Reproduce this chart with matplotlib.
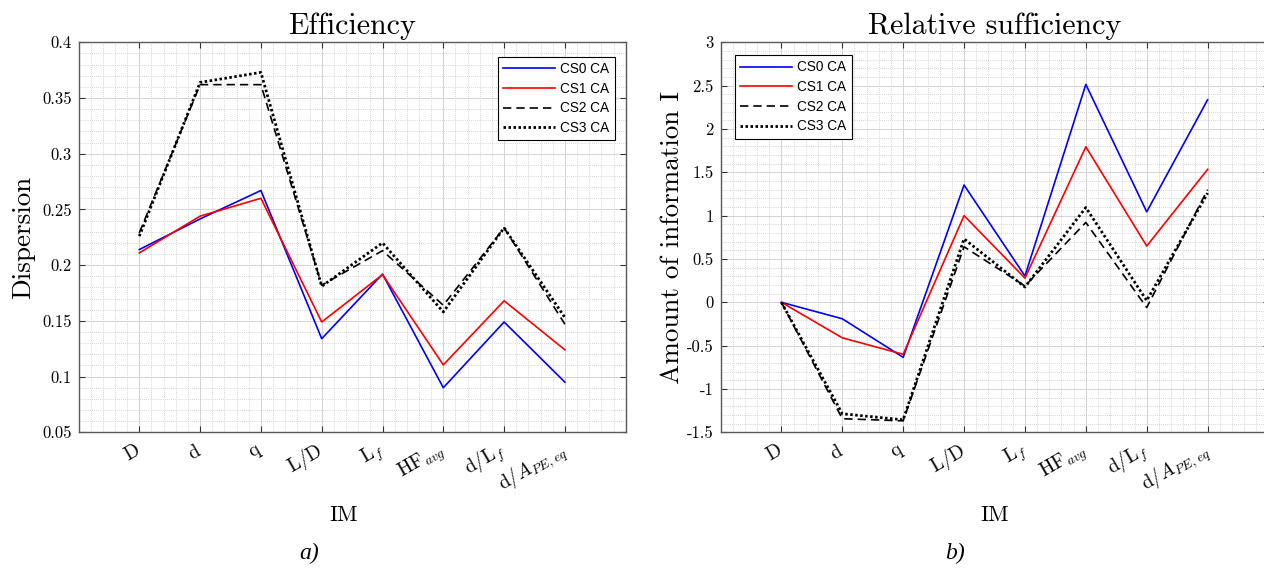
import matplotlib
matplotlib.use("Agg")
import matplotlib.pyplot as plt
from matplotlib.ticker import MultipleLocator, FuncFormatter, FixedLocator

plt.rcParams['mathtext.fontset'] = 'cm'
plt.rcParams['axes.unicode_minus'] = False

# ---------------- data ----------------
im_labels = [r'$\mathrm{D}$', r'$\mathrm{d}$', r'$\mathrm{q}$', r'$\mathrm{L/D}$',
             r'$\mathrm{L}_f$', r'$\mathrm{HF}_{avg}$', r'$\mathrm{d/L}_f$',
             r'$\mathrm{d}/A_{PE,eq}$']
im_pos = [1, 2, 3, 4, 5, 6, 7, 8]

series_names = ['CS0 CA', 'CS1 CA', 'CS2 CA', 'CS3 CA']

eff_cs0 = [0.214, 0.2415, 0.267, 0.134, 0.192, 0.090, 0.149, 0.095]
eff_cs1 = [0.211, 0.244, 0.260, 0.149, 0.1915, 0.1105, 0.168, 0.124]
eff_cs2 = [0.229, 0.362, 0.362, 0.182, 0.213, 0.164, 0.2335, 0.147]
eff_cs3 = [0.226, 0.364, 0.373, 0.181, 0.220, 0.158, 0.2335, 0.153]

suf_cs0 = [0.0, -0.19, -0.635, 1.353, 0.303, 2.514, 1.044, 2.337]
suf_cs1 = [0.0, -0.41, -0.60, 1.0, 0.279, 1.794, 0.649, 1.534]
suf_cs2 = [0.0, -1.343, -1.368, 0.641, 0.188, 0.921, -0.06, 1.30]
suf_cs3 = [0.0, -1.286, -1.356, 0.732, 0.176, 1.094, 0.02, 1.26]

# ---------------- styles ----------------
styles = [
    dict(color='#0000ff', lw=1.2, ls='-'),
    dict(color='#ff0000', lw=1.2, ls='-'),
    dict(color='black', lw=1.2, ls=(0, (5, 3))),
    dict(color='black', lw=2.0, ls=(0, (0.9, 0.9))),
]
CM = 'cmr10'

W, H = 1264, 568
fig = plt.figure(figsize=(W / 100, H / 100), dpi=100)

ax1 = fig.add_axes([78.5 / W, (H - 432.3) / H, 547.2 / W, 390 / H])
ax2 = fig.add_axes([720.5 / W, (H - 432.3) / H, 548.0 / W, 390 / H])


def fmt_num(v, pos):
    s = ('%.2f' % v).rstrip('0').rstrip('.')
    if s == '-0':
        s = '0'
    return s


def style_axes(ax, ylo, yhi, ymaj, ymin):
    ax.set_xlim(0, 9)
    ax.set_ylim(ylo, yhi)
    ax.xaxis.set_major_locator(FixedLocator(im_pos))
    ax.xaxis.set_minor_locator(MultipleLocator(0.2))
    ax.yaxis.set_major_locator(MultipleLocator(ymaj))
    ax.yaxis.set_minor_locator(MultipleLocator(ymin))
    ax.yaxis.set_major_formatter(FuncFormatter(fmt_num))
    ax.set_xticklabels(im_labels, rotation=30, ha='right', va='center',
                       rotation_mode='anchor', fontsize=14)
    ax.tick_params(axis='both', which='major', direction='in', length=4,
                   width=0.8, color='#333333', top=True, right=True)
    ax.tick_params(axis='x', which='major', pad=12)
    ax.tick_params(axis='y', which='major', labelsize=12, pad=5)
    for t in ax.get_yticklabels():
        t.set_family(CM)
    ax.tick_params(which='minor', length=0)
    ax.grid(True, which='major', color='#d4d4d4', lw=0.7, ls='-')
    ax.grid(True, which='minor', color='#c8c8c8', lw=0.6, ls=(0, (1, 1.5)))
    ax.set_axisbelow(True)
    for sp in ax.spines.values():
        sp.set_color('#5a5a5a')
        sp.set_linewidth(1.0)


for ax, data in ((ax1, [eff_cs0, eff_cs1, eff_cs2, eff_cs3]),
                 (ax2, [suf_cs0, suf_cs1, suf_cs2, suf_cs3])):
    for name, vals, st in zip(series_names, data, styles):
        ax.plot(im_pos, vals, label=name, **st)

style_axes(ax1, 0.05, 0.4, 0.05, 0.01)
style_axes(ax2, -1.5, 3.0, 0.5, 0.1)

ax1.set_title('Efficiency', fontsize=21.5, family=CM, pad=6)
ax2.set_title('Relative sufficiency', fontsize=21.5, family=CM, pad=6)
ax1.set_ylabel('Dispersion', fontsize=19.5, family=CM)
ax2.set_ylabel('Amount of information I', fontsize=19.5, family=CM)
ax1.yaxis.set_label_coords(-0.080, 0.5)
ax2.yaxis.set_label_coords(-0.066, 0.5)
ax1.set_xlabel('IM', fontsize=16, family=CM)
ax2.set_xlabel('IM', fontsize=16, family=CM)
ax1.xaxis.set_label_coords(0.485, -0.187)
ax2.xaxis.set_label_coords(0.50, -0.187)

leg_kw = dict(prop={'family': 'Liberation Sans', 'size': 9.8}, frameon=True,
              fancybox=False, edgecolor='black', framealpha=1,
              handlelength=3.8, handletextpad=0.4, labelspacing=0.42,
              borderpad=0.38, borderaxespad=0)
l1 = ax1.legend(loc='upper right', bbox_to_anchor=(0.980, 0.963), **leg_kw)
l2 = ax2.legend(loc='upper left', bbox_to_anchor=(0.0265, 0.967), **leg_kw)
for l in (l1, l2):
    l.get_frame().set_linewidth(0.8)

fig.text(309 / W, (H - 553) / H, 'a)', fontsize=17, style='italic',
         family='Liberation Serif', ha='center', va='center')
fig.text(955 / W, (H - 553) / H, 'b)', fontsize=17, style='italic',
         family='Liberation Serif', ha='center', va='center')

fig.savefig('out.png', dpi=100)
